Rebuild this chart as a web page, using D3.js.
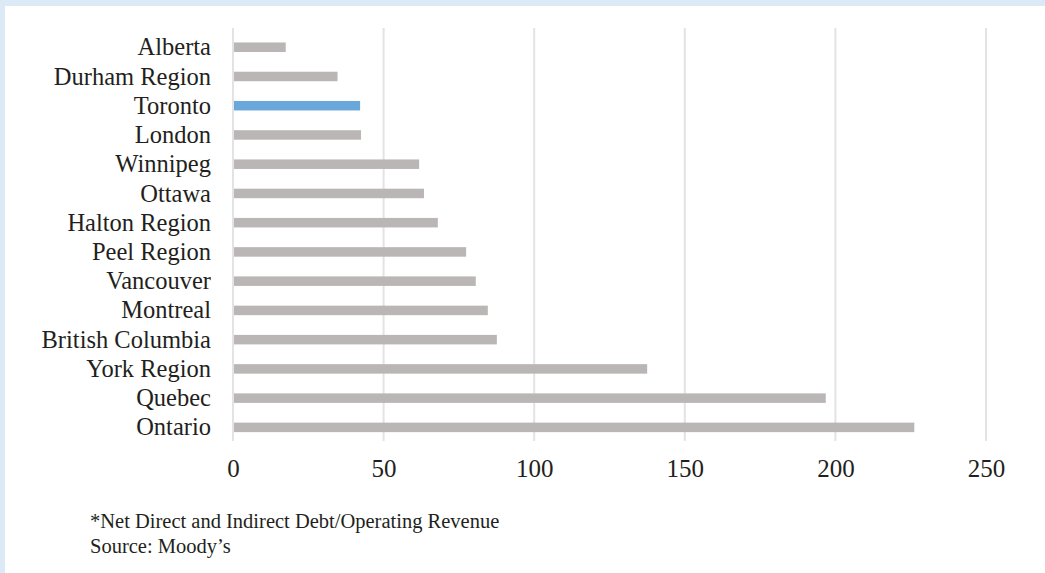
<!DOCTYPE html>
<html>
<head>
<meta charset="utf-8">
<script src="https://cdn.jsdelivr.net/npm/d3@7"></script>
<style>
  html, body { margin: 0; padding: 0; background: #fff; }
  svg { display: block; }
  text { font-family: "Liberation Serif", "DejaVu Serif", serif; fill: #231f20; }
</style>
</head>
<body>
<svg id="chart" width="1045" height="573"></svg>
<script>
const categories = ["Alberta", "Durham Region", "Toronto", "London", "Winnipeg", "Ottawa",
  "Halton Region", "Peel Region", "Vancouver", "Montreal", "British Columbia",
  "York Region", "Quebec", "Ontario"];
const values = [17.5, 34.7, 42.2, 42.5, 61.8, 63.4, 68.0, 77.4, 80.6, 84.6, 87.6, 137.5, 196.8, 226.2];
const highlighted = ["Toronto"];
const tickValues = [0, 50, 100, 150, 200, 250];
const footnotes = ["*Net Direct and Indirect Debt/Operating Revenue", "Source: Moody\u2019s"];

const W = 1045, H = 573;
const svg = d3.select("#chart");

// frame
svg.append("rect").attr("x", 0).attr("y", 0).attr("width", W).attr("height", H).attr("fill", "#dce9f6");
svg.append("rect").attr("x", 5).attr("y", 6).attr("width", W - 5).attr("height", H - 6).attr("fill", "#ffffff");

const x = d3.scaleLinear().domain([0, 250]).range([233, 986]);
const y = d3.scaleBand().domain(categories).range([32.6, 442]).paddingInner(0.675).paddingOuter(0.3375);

// gridlines
svg.append("g").selectAll("line").data(tickValues).join("line")
  .attr("x1", d => x(d)).attr("x2", d => x(d))
  .attr("y1", 28).attr("y2", 441)
  .attr("stroke", "#e3e3e3").attr("stroke-width", 2);

// bars
svg.append("g").selectAll("rect").data(categories).join("rect")
  .attr("x", x(0) + 1)
  .attr("y", d => y(d))
  .attr("width", (d, i) => x(values[i]) - x(0) - 1)
  .attr("height", y.bandwidth())
  .attr("fill", d => highlighted.includes(d) ? "#6aa8dc" : "#bab6b5");

// category labels
svg.append("g").selectAll("text").data(categories).join("text")
  .attr("x", 211)
  .attr("y", d => y(d) + y.bandwidth() / 2)
  .attr("dy", "0.33em")
  .attr("text-anchor", "end")
  .attr("font-size", 24.5)
  .text(d => d);

// x tick labels
const xAxis = d3.axisBottom(x).tickValues(tickValues).tickSize(0).tickPadding(0).tickFormat(d3.format("d"));
const gx = svg.append("g").attr("transform", "translate(0,477)").call(xAxis);
gx.select(".domain").remove();
gx.selectAll("text").attr("dy", 0).attr("y", 0).attr("font-size", 25)
  .style("font-family", "'Liberation Serif', serif").attr("fill", "#231f20");

// footnotes
svg.append("g").selectAll("text").data(footnotes).join("text")
  .attr("x", 90)
  .attr("y", (d, i) => 528 + i * 25)
  .attr("font-size", 20.5)
  .text(d => d);
</script>
</body>
</html>
